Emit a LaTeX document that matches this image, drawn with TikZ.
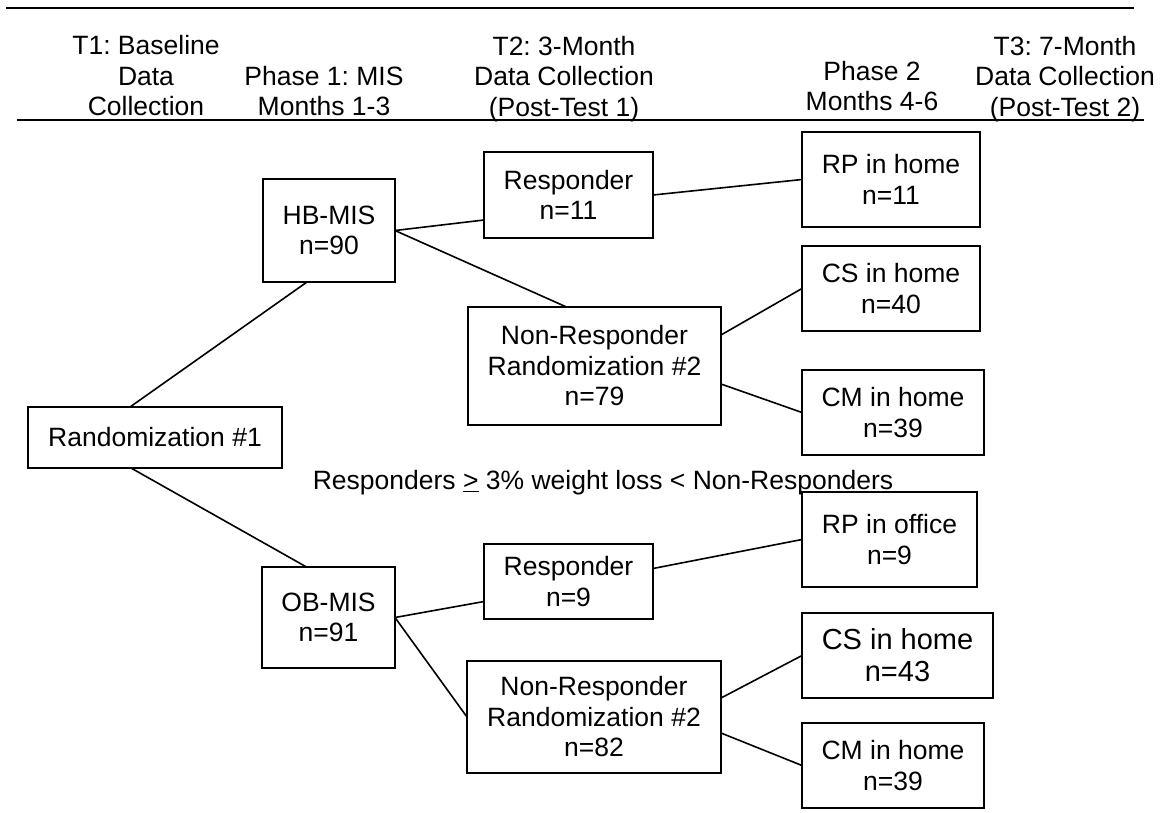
\documentclass[tikz,border=0pt]{standalone}
\usepackage{fontspec}
\setmainfont{Liberation Sans}
\usetikzlibrary{calc}
\frenchspacing

\begin{document}
\begin{tikzpicture}[x=1pt, y=-1pt,
    every node/.style={font=\fontsize{26.5}{30.5}\selectfont, inner sep=0pt, outer sep=0pt, align=center},
    box/.style={draw, line width=2pt},
    big/.style={font=\fontsize{29}{32}\selectfont},
    rule/.style={line width=2pt},
    link/.style={line width=1.6pt}
]
\useasboundingbox (0,0) rectangle (1168,812);

% Header rules
\coordinate (topL) at (6,7.5);
\coordinate (topR) at (1134,7.5);
\coordinate (hdrL) at (17,119.5);
\coordinate (hdrR) at (1144,119.5);
\draw[rule] (topL) -- (topR);
\draw[rule] (hdrL) -- (hdrR);

% Header — time points and phases
\node (t1)  at (146, 76)  {T1: Baseline\\Data\\Collection};
\node (ph1) at (324, 91)  {Phase 1: MIS\\Months 1-3};
\node (t2)  at (564, 79)  {T2: 3-Month\\Data Collection\\(Post-Test 1)};
\node (ph2) at (872, 86)  {Phase 2\\Months 4-6};
\node (t3)  at (1065, 79) {T3: 7-Month\\Data Collection\\(Post-Test 2)};

% Column 1 — first randomization
\node[box, minimum width=254, minimum height=61] (rand) at (155, 437.5) {Randomization \#1};

% Column 2 — MIS arms
\node[box, minimum width=132, minimum height=103] (hb) at (329, 230.5) {HB-MIS\\n=90};
\node[box, minimum width=133, minimum height=101] (ob) at (328.5, 617.5) {OB-MIS\\n=91};

% Column 3 — responders and non-responders
\node[box, minimum width=169, minimum height=86]  (resp1) at (568.5, 195)   {Responder\\n=11};
\node[box, minimum width=253, minimum height=118] (nr1)   at (594.5, 366)   {Non-Responder\\Randomization \#2\\n=79};
\node[box, minimum width=169, minimum height=75]  (resp2) at (568.5, 581.5) {Responder\\n=9};
\node[box, minimum width=254, minimum height=112] (nr2)   at (594, 717)     {Non-Responder\\Randomization \#2\\n=82};

% Column 4 — phase 2 conditions
\node[box, minimum width=178, minimum height=95] (rph) at (891, 179.5)   {RP in home\\n=11};
\node[box, minimum width=178, minimum height=85] (cs1) at (891, 288.5)   {CS in home\\n=40};
\node[box, minimum width=182, minimum height=85] (cm1) at (893, 412.5)   {CM in home\\n=39};
\node[box, minimum width=175, minimum height=95] (rpo) at (889.5, 539.5) {RP in office\\n=9};
\node[box, big, minimum width=191, minimum height=85] (cs2) at (897.5, 655.5) {CS in home\\n=43};
\node[box, minimum width=182, minimum height=85] (cm2) at (893, 765.5)   {CM in home\\n=39};

% Criterion
\node (crit) at (603, 483) {Responders \underline{>} 3\% weight loss < Non-Responders};

% Connectors
\draw[link] ($(rand.north)+(-25,0)$) -- ($(hb.south)+(-22,0)$);
\draw[link] ($(rand.south)+(-24,0)$) -- ($(ob.north)+(-22,0)$);
\draw[link] (hb.east) -- ($(resp1.west)+(0,25)$);
\draw[link] (hb.east) -- ($(nr1.north)+(-28,0)$);
\draw[link] (resp1.east) -- (rph.west);
\draw[link] ($(nr1.east)+(0,-31)$) -- (cs1.west);
\draw[link] ($(nr1.east)+(0,18)$) -- (cm1.west);
\draw[link] (ob.east) -- ($(resp2.west)+(0,20)$);
\draw[link] (ob.east) -- (nr2.west);
\draw[link] ($(resp2.east)+(0,-13)$) -- (rpo.west);
\draw[link] ($(nr2.east)+(0,-19)$) -- (cs2.west);
\draw[link] ($(nr2.east)+(0,16)$) -- (cm2.west);
\end{tikzpicture}
\end{document}
